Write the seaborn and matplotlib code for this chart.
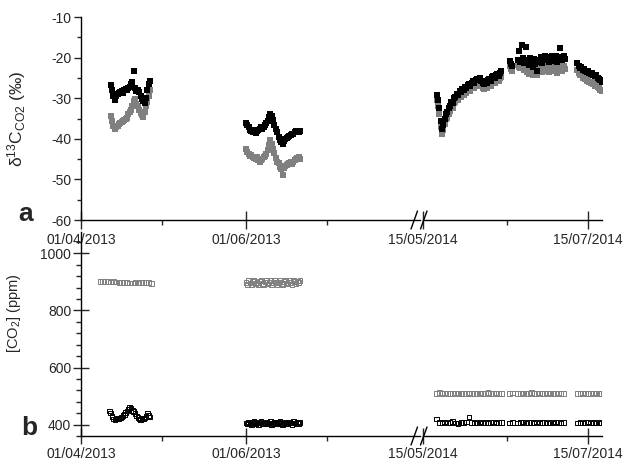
import numpy as np
import pandas as pd
import matplotlib
matplotlib.use("Agg")
import matplotlib.pyplot as plt
import matplotlib.dates as mdates
from matplotlib.ticker import MultipleLocator
from matplotlib.lines import Line2D
import seaborn as sns

sns.set_style("white")
plt.rcParams['font.family'] = ['Liberation Sans', 'DejaVu Sans']
plt.rcParams['mathtext.fontset'] = 'custom'
plt.rcParams['mathtext.rm'] = 'Liberation Sans'
plt.rcParams['mathtext.it'] = 'Liberation Sans:italic'
plt.rcParams['axes.unicode_minus'] = False

nan = np.nan

## ---- panel a : d13C-CO2 (per mil), 12 h steps ----
# April 2013, from 12/04/2013
d13_apr_black = [-26.7, -28.0, -29.5, -30.5, -29.5, -29.0, -28.8, -28.5, -28.2, -28.6,
                 -28.0, -27.8, -28.0, -27.5, -27.2, -26.5, -26.0, -23.2, -27.5, -28.3,
                 -28.0, -28.5, -29.5, -30.2, -30.8, -31.3, -30.0, -28.0, -26.5, -25.8]
d13_apr_grey = [-34.3, -35.5, -36.8, -37.6, -37.0, -36.8, -36.3, -36.0, -35.8, -35.5,
                -35.3, -35.0, -34.8, -34.0, -33.5, -32.8, -31.8, -30.8, -30.2, -31.5,
                -32.0, -33.0, -33.6, -34.2, -34.6, -33.5, -32.0, -31.0, -29.5, -28.0]
# June 2013, from 01/06/2013
d13_jun_black = [-36.0, -36.5, -37.2, -37.8, -38.0, -38.3, -37.8, -38.5, -38.2, -37.8,
                 -37.5, -37.2, -37.6, -37.0, -36.5, -36.2, -35.5, -34.6, -34.0, -34.5,
                 -35.3, -36.5, -37.5, -38.3, -39.5, -40.3, -40.8, -41.2, -40.5, -40.0,
                 -39.8, -39.5, -39.3, -39.0, -38.7, -38.8, -38.4, -38.2, -38.0, -38.3, -38.0]
d13_jun_grey = [-42.4, -43.2, -43.8, -44.2, -44.0, -44.5, -44.8, -45.0, -44.6, -45.2,
                -45.6, -45.3, -45.0, -44.6, -44.2, -43.8, -42.8, -41.5, -40.3, -41.2,
                -42.4, -43.5, -44.8, -45.6, -46.0, -46.9, -47.5, -49.0, -47.3, -46.8,
                -46.5, -46.2, -46.0, -45.8, -46.1, -45.6, -45.3, -45.0, -44.7, -44.5, -45.0]
# 2014, from 20/05/2014
d13_may14_black = [-29.3, -30.5, -32.5, -35.5, -37.5, -36.5, -35.0, -34.0, -33.5, -32.5,
                   -32.0, -31.0, -31.2, -30.0, -29.8, -29.0, -29.2, -28.3, -28.5, -27.8,
                   -27.9, -27.2, -27.5, -26.8, -26.5, -27.0, -26.2, -25.8, -26.3, -25.5,
                   -25.2, -25.6, -25.0, -25.8, -26.2, -26.5, -25.8, -26.3, -25.5, -25.2,
                   -25.7, -24.9, -24.6, -25.0, -24.3, -24.0, -24.5, -23.7, -23.4]
d13_may14_grey = [-30.5, -31.8, -34.0, -37.0, -38.7, -37.8, -36.3, -35.2, -34.8, -33.8,
                  -33.2, -32.3, -32.5, -31.3, -31.0, -30.3, -30.4, -29.5, -29.8, -29.0,
                  -29.2, -28.5, -28.7, -28.0, -27.8, -28.2, -27.4, -27.0, -27.5, -26.8,
                  -26.4, -26.9, -26.3, -27.0, -27.4, -27.7, -27.1, -27.5, -26.8, -26.4,
                  -27.0, -26.2, -25.9, -26.3, -25.6, -25.3, -25.8, -25.0, -24.7]
# from 16/06/2014
d13_jun14_black = [-20.8, -21.6, -22.0, nan, nan, nan, -20.5, -18.3, -21.0, -16.9,
                   -20.2, -21.3, -17.3, -20.6, -21.8, -20.0, -21.0, -22.4, -20.4, -21.6,
                   -23.4, -21.2, -20.5, -19.8, -21.3, -20.0, -19.6, -20.6, -19.8, -21.0,
                   -20.2, -19.7, -20.8, -20.0, -19.5, -21.2, -20.3, -17.6, -19.8, -20.6,
                   -19.6, -20.4]
d13_jun14_grey = [-22.0, -22.8, -23.2, nan, nan, nan, -21.8, -22.4, -22.6, -21.9,
                  -22.2, -23.0, -22.4, -23.6, -24.0, -22.6, -23.2, -24.2, -22.8, -23.4,
                  -24.3, -23.0, -22.5, -22.2, -23.5, -22.6, -22.0, -23.2, -22.4, -23.6,
                  -22.8, -22.2, -23.4, -22.6, -22.0, -23.8, -22.6, -22.0, -22.4, -23.2,
                  -22.0, -22.8]
# from 11/07/2014
d13_jul14_black = [-21.4, -22.0, -22.6, -22.3, -23.0, -22.8, -23.2, -23.6, -23.3, -23.8,
                   -24.0, -23.7, -24.3, -24.6, -24.4, -25.0, -25.3, -25.6, -25.9]
d13_jul14_grey = [-23.0, -23.8, -24.4, -24.2, -25.0, -24.8, -25.3, -25.7, -25.5, -26.0,
                  -26.3, -26.1, -26.6, -26.9, -26.8, -27.3, -27.6, -27.9, -28.3]

## ---- panel b : [CO2] (ppm) ----
# April 2013 grey, daily from 08/04/2013
co2_apr_grey = [901, 902, 901, 901, 900, 901, 900, 899, 899, 898,
                897, 896, 896, 897, 896, 897, 898, 898, 897, 894]
# April 2013 black, 12 h from 11/04/2013 12:00
co2_apr_black = [448, 440, 428, 420, 418, 420, 421, 419, 423, 426, 431, 436, 442, 447, 455,
                 462, 458, 450, 446, 438, 430, 424, 420, 418, 421, 419, 423, 428, 440, 432, 426]
# June 2013, 12 h from 01/06/2013
co2_jun_grey = [898, 892, 904, 896, 890, 902, 906, 894, 899, 891, 903, 907, 895, 889, 900,
                905, 893, 897, 904, 890, 896, 906, 900, 892, 898, 905, 895, 890, 902, 907,
                896, 893, 904, 899, 891, 906, 901, 894, 903, 897, 905]
co2_jun_black = [406, 402, 409, 404, 401, 407, 410, 403, 405, 400, 408, 411, 404, 402, 406,
                 409, 403, 405, 410, 401, 404, 408, 406, 402, 407, 411, 403, 400, 406, 409,
                 404, 402, 408, 405, 401, 410, 406, 403, 409, 404, 407]
# 2014, daily from 20/05/2014
co2_14_grey = [508, 512, 509, 511, 508, 510, 509, 511, 510, 508, 510, 509, 511, 510, 509,
               510, 511, 509, 510, 512, 510, 509, 511, 510, 509, nan, nan, 510, 511, nan,
               509, 510, 511, 509, 510, 512, 510, 509, 511, 510, 509, 511, 510, 509, 510,
               511, 509, 510, nan, nan, nan, nan, 510, 509, 511, 510, 509, 510, 511, 509,
               510, 510]
co2_14_black = [419, 408, 406, 409, 405, 407, 410, 406, 404, 408, 407, 409, 426, 408, 405,
                407, 409, 406, 408, 405, 407, 409, 406, 408, 407, nan, nan, 406, 408, nan,
                405, 407, 409, 406, 408, 407, 405, 409, 406, 408, 407, 405, 408, 406, 409,
                407, 405, 408, nan, nan, nan, nan, 406, 408, 405, 407, 409, 406, 408, 405,
                407, 406]


def series(start, freq, vals):
    return pd.DataFrame({"time": pd.date_range(start, periods=len(vals), freq=freq),
                         "val": vals})


top13 = [(series("2013-04-12", "12h", d13_apr_grey), series("2013-04-12", "12h", d13_apr_black)),
         (series("2013-06-01", "12h", d13_jun_grey), series("2013-06-01", "12h", d13_jun_black))]
top14 = [(series("2014-05-20", "12h", d13_may14_grey), series("2014-05-20", "12h", d13_may14_black)),
         (series("2014-06-16", "12h", d13_jun14_grey), series("2014-06-16", "12h", d13_jun14_black)),
         (series("2014-07-11", "12h", d13_jul14_grey), series("2014-07-11", "12h", d13_jul14_black))]
bot13 = [(series("2013-04-08", "D", co2_apr_grey), series("2013-04-11 12:00", "12h", co2_apr_black)),
         (series("2013-06-01", "12h", co2_jun_grey), series("2013-06-01", "12h", co2_jun_black))]
bot14 = [(series("2014-05-20", "D", co2_14_grey), series("2014-05-20", "D", co2_14_black))]

W, H = 624, 465
fig = plt.figure(figsize=(W / 100, H / 100), dpi=100)


def add_ax(x0, x1, y0, y1):
    return fig.add_axes([x0 / W, 1 - y1 / H, (x1 - x0) / W, (y1 - y0) / H])


ax_a1 = add_ax(81, 420, 17, 220)
ax_a2 = add_ax(423, 602, 17, 220)
ax_b1 = add_ax(81, 420, 232, 436)
ax_b2 = add_ax(423, 602, 232, 436)

GREY = '#808080'

# filled squares, panel a
for ax, groups in [(ax_a1, top13), (ax_a2, top14)]:
    for g, b in groups:
        sns.scatterplot(data=g.dropna(), x="time", y="val", ax=ax, color=GREY,
                        marker='s', s=17, linewidth=0, legend=False, zorder=2)
        sns.scatterplot(data=b.dropna(), x="time", y="val", ax=ax, color='black',
                        marker='s', s=17, linewidth=0, legend=False, zorder=3)

# open squares, panel b
for ax, groups in [(ax_b1, bot13), (ax_b2, bot14)]:
    for g, b in groups:
        sns.scatterplot(data=g.dropna(), x="time", y="val", ax=ax, marker='s', s=11,
                        facecolor='none', edgecolor=GREY, linewidth=0.7, legend=False)
        sns.scatterplot(data=b.dropna(), x="time", y="val", ax=ax, marker='s', s=11,
                        facecolor='none', edgecolor='black', linewidth=0.7, legend=False)

left_lim = (pd.Timestamp("2013-04-01"), pd.Timestamp("2013-04-01") + pd.Timedelta(days=125.3))
right_lim = (pd.Timestamp("2014-05-15"), pd.Timestamp("2014-05-15") + pd.Timedelta(days=66.15))

for ax in [ax_a1, ax_a2, ax_b1, ax_b2]:
    ax.set_facecolor('none')
    for s in ['top', 'right']:
        ax.spines[s].set_visible(False)
    for s in ['left', 'bottom']:
        ax.spines[s].set_linewidth(1.0)
        ax.spines[s].set_color('black')
    ax.set_xlabel('')
    ax.set_ylabel('')
    ax.xaxis.set_major_formatter(mdates.DateFormatter('%d/%m/%Y'))

for ax in [ax_a1, ax_b1]:
    ax.set_xlim(*left_lim)
    ax.set_xticks(pd.to_datetime(["2013-04-01", "2013-06-01"]))
    ax.set_xticks(pd.to_datetime(["2013-05-01", "2013-07-01"]), minor=True)
for ax in [ax_a2, ax_b2]:
    ax.set_xlim(*right_lim)
    ax.set_xticks(pd.to_datetime(["2014-05-15", "2014-07-15"]))
    ax.set_xticks(pd.to_datetime(["2014-06-15"]), minor=True)
    ax.spines['left'].set_visible(False)
    ax.tick_params(axis='y', which='both', left=False, labelleft=False)
    ax.xaxis.set_major_formatter(mdates.DateFormatter('%d/%m/%Y'))

for ax in [ax_a1, ax_a2]:
    ax.set_ylim(-60, -10)
    ax.yaxis.set_major_locator(MultipleLocator(10))
    ax.yaxis.set_minor_locator(MultipleLocator(5))
    ax.tick_params(axis='x', which='major', direction='inout', length=13, width=1, pad=3, labelsize=10)
    ax.tick_params(axis='x', which='minor', direction='out', length=3.5, width=1)
for ax in [ax_b1, ax_b2]:
    ax.set_ylim(360, 1075)
    ax.yaxis.set_major_locator(MultipleLocator(200))
    ax.yaxis.set_minor_locator(MultipleLocator(40))
    ax.tick_params(axis='x', which='major', direction='inout', length=12, width=1, pad=2, labelsize=10)
    ax.tick_params(axis='x', which='minor', direction='out', length=3.5, width=1)

ax_a1.tick_params(axis='y', which='major', direction='out', length=5, width=1, pad=2, labelsize=10, left=True)
ax_a1.tick_params(axis='y', which='minor', direction='out', length=3, width=1, left=True)
ax_b1.tick_params(axis='y', which='major', direction='inout', length=12, width=1, pad=1, labelsize=10, left=True)
ax_b1.tick_params(axis='y', which='minor', direction='out', length=3.5, width=1, left=True)
for ax in [ax_a1, ax_a2, ax_b1, ax_b2]:
    ax.tick_params(axis='x', which='both', bottom=True)

ax_a1.set_ylabel('δ$^{13}$C$_{\\mathregular{CO2}}$ (‰)', fontsize=12.5)
ax_a1.yaxis.set_label_coords(-0.155, 0.5)
ax_b1.set_ylabel('[CO$_{\\mathregular{2}}$] (ppm)', fontsize=10.5)
ax_b1.yaxis.set_label_coords(-0.17, 0.6)

fig.text(18 / W, 1 - 221 / H, 'a', fontsize=19, fontweight='bold', va='baseline')
fig.text(21 / W, 1 - 435 / H, 'b', fontsize=19, fontweight='bold', va='baseline')

# axis break marks
for ybase in [220, 436]:
    for x0 in [411, 420.5]:
        fig.add_artist(Line2D([x0 / W, (x0 + 6.5) / W], [1 - (ybase + 9) / H, 1 - (ybase - 9) / H],
                              transform=fig.transFigure, color='black', lw=1.0))

fig.savefig('out.png', dpi=100)
